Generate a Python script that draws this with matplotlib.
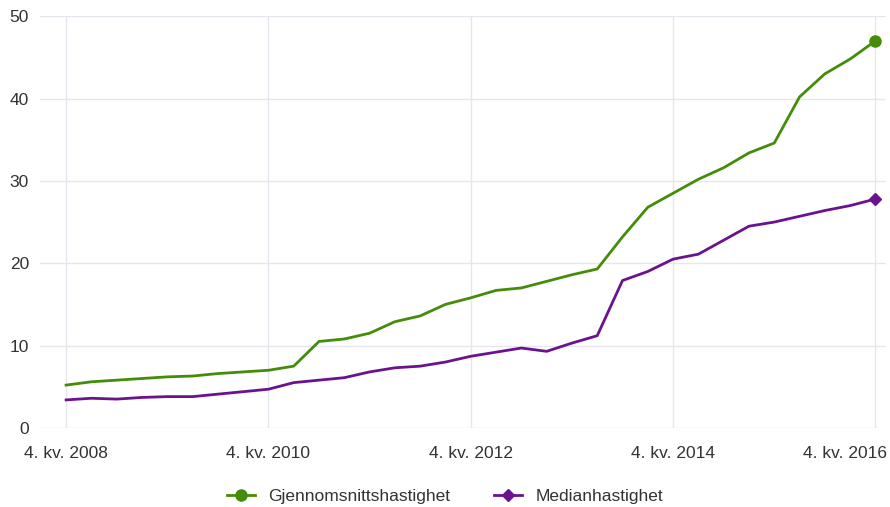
import matplotlib.pyplot as plt
import matplotlib.transforms as mtransforms
import numpy as np

# kvartal (4. kv. 2008 .. 4. kv. 2016)
kvartal = list(range(33))
tick_pos = [0, 8, 16, 24, 32]
tick_labels = ['4. kv. 2008', '4. kv. 2010', '4. kv. 2012', '4. kv. 2014', '4. kv. 2016']

gjennomsnitt = [5.2, 5.6, 5.8, 6.0, 6.2, 6.3, 6.6, 6.8, 7.0, 7.5, 10.5, 10.8,
                11.5, 12.9, 13.6, 15.0, 15.8, 16.7, 17.0, 17.8, 18.6, 19.3,
                23.2, 26.8, 28.5, 30.2, 31.6, 33.4, 34.6, 40.2, 43.0, 44.8, 47.0]
median = [3.4, 3.6, 3.5, 3.7, 3.8, 3.8, 4.1, 4.4, 4.7, 5.5, 5.8, 6.1,
          6.8, 7.3, 7.5, 8.0, 8.7, 9.2, 9.7, 9.3, 10.3, 11.2,
          17.9, 19.0, 20.5, 21.1, 22.8, 24.5, 25.0, 25.7, 26.4, 27.0, 27.8]

gronn = '#458c0a'
lilla = '#6b138f'

plt.rcParams['font.family'] = ['Liberation Sans', 'DejaVu Sans']

fig = plt.figure(figsize=(8.9, 5.07), dpi=100)
ax = fig.add_axes([0.045, 0.156, 0.95, 0.812])

ax.plot(kvartal, gjennomsnitt, color=gronn, lw=2, marker='o', markevery=[32],
        ms=8, label='Gjennomsnittshastighet')
ax.plot(kvartal, median, color=lilla, lw=2, marker='D', markevery=[32],
        ms=6, label='Medianhastighet')

ax.set_xlim(-1.03, 32.4)
ax.set_ylim(0, 50)
ax.set_yticks([0, 10, 20, 30, 40, 50])
ax.set_xticks(tick_pos)
ax.set_xticklabels(tick_labels)
ax.grid(True, color='#e6e6ee', lw=1)
ax.set_axisbelow(True)
for s in ax.spines.values():
    s.set_visible(False)
ax.tick_params(axis='both', length=0, labelsize=12.5, colors='#333333')
ax.tick_params(axis='x', pad=13)
ax.tick_params(axis='y', pad=8)

# siste etikett skyves inn i figuren (som i Highcharts)
siste = ax.get_xticklabels()[-1]
siste.set_horizontalalignment('right')
siste.set_transform(siste.get_transform() +
                    mtransforms.ScaledTranslation(0.12, 0, fig.dpi_scale_trans))

fig.legend(loc='lower center', bbox_to_anchor=(0.5, -0.025), ncol=2, frameon=False,
           fontsize=12.5, handlelength=1.6, columnspacing=2.5, labelcolor='#333333')

fig.savefig('out.png', dpi=100)
